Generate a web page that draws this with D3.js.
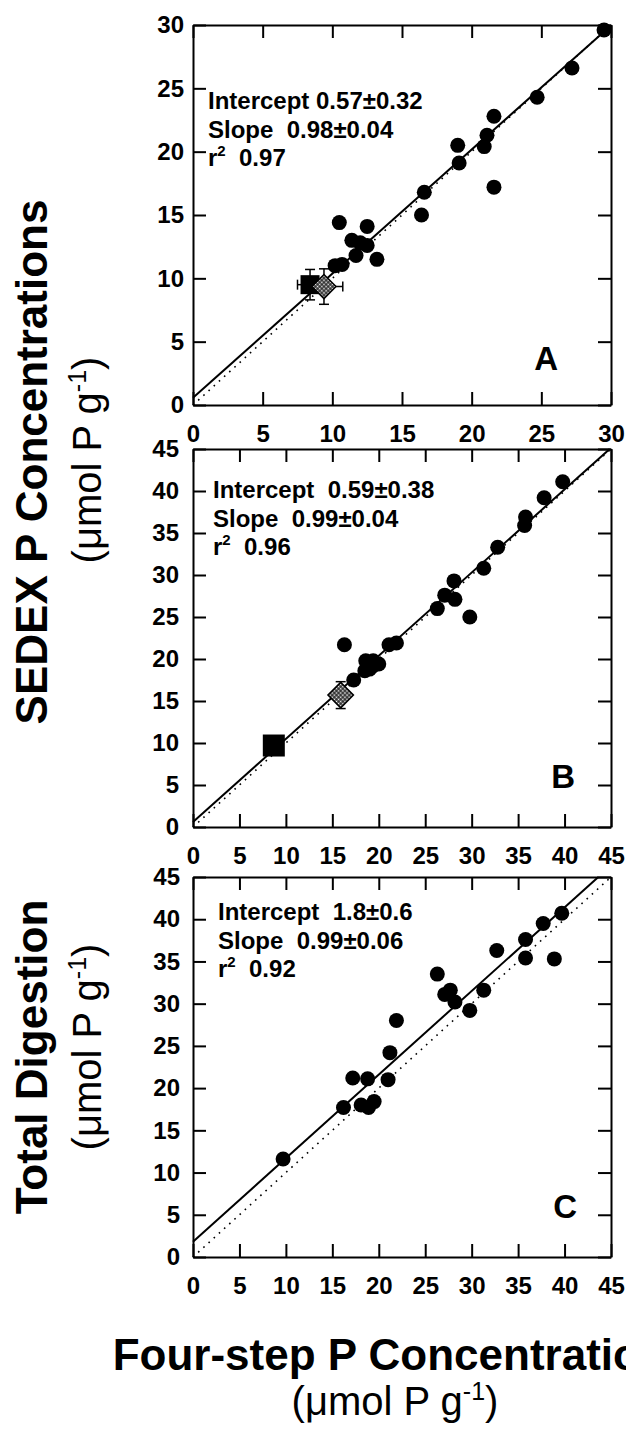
<!DOCTYPE html>
<html><head><meta charset="utf-8">
<script src="https://cdn.jsdelivr.net/npm/d3@7"></script>
<style>
body{margin:0;background:#fff;}
svg text{font-family:"Liberation Sans",Arial,Helvetica,sans-serif;fill:#000;}
</style></head><body>
<svg id="chart" width="626" height="1431"></svg>
<script>
// ---------------- data ----------------
const ticksA  = [0,5,10,15,20,25,30];
const ticksBC = [0,5,10,15,20,25,30,35,40,45];

// Panel A: SEDEX vs four-step
const aX = [29.5,27.2,24.7,21.6,21.1,20.9,19.0,19.1,21.6,16.6,16.4,10.5,12.5,11.4,12.0,12.5,11.7,13.2,10.2,10.7];
const aY = [29.6,26.6,24.3,22.8,21.3,20.4,20.5,19.1,17.2,16.8,15.0,14.4,14.1,13.0,12.8,12.6,11.8,11.5,11.0,11.1];
const squareA  = [8.4, 9.5];   const squareAErr  = [0.9, 1.2];
const diamondA = [9.4, 9.35];  const diamondAErr = [1.35, 1.4];
const fitA = [0.57, 0.98];
const annA = ["Intercept 0.57\u00b10.32", "Slope  0.98\u00b10.04", "0.97"];

// Panel B: SEDEX vs four-step
const bX = [39.8,37.8,35.8,35.7,32.8,31.3,28.1,27.1,28.2,26.3,29.8,16.3,21.1,21.9,18.6,19.4,19.3,18.5,17.3,20.0,19.0];
const bY = [41.1,39.2,36.9,35.9,33.3,30.8,29.3,27.6,27.1,26.0,25.0,21.7,21.7,21.9,19.8,19.8,19.1,18.6,17.5,19.4,18.8];
const squareB  = [8.7, 9.7];   const squareBErr  = [0, 0];
const diamondB = [15.9, 15.7]; const diamondBErr = [0, 1.6];
const fitB = [0.59, 0.99];
const annB = ["Intercept  0.59\u00b10.38", "Slope  0.99\u00b10.04", "0.96"];

// Panel C: Total digestion vs four-step
const cX = [9.7,16.2,17.2,18.8,18.1,18.9,19.5,21.0,21.2,21.9,26.3,27.1,27.7,28.2,29.8,31.3,32.7,35.8,35.8,37.7,38.9,39.7];
const cY = [11.6,17.7,21.2,21.1,18.0,17.7,18.4,21.0,24.2,28.0,33.5,31.1,31.6,30.2,29.2,31.6,36.3,37.6,35.4,39.5,35.3,40.7];
const fitC = [1.8, 0.99];
const annC = ["Intercept  1.8\u00b10.6", "Slope  0.99\u00b10.06", "0.92"];

const panelLetters = ["A","B","C"];
const titleSEDEX = "SEDEX P Concentrations";
const titleTotal = "Total Digestion";
const titleX = "Four-step P Concentrations";
const unitText = "(\u03bcmol P g";

// ---------------- drawing ----------------
const svg = d3.select("#chart");
svg.append("rect").attr("width",626).attr("height",1431).attr("fill","#fff");

const defs = svg.append("defs");
const pat = defs.append("pattern").attr("id","check").attr("patternUnits","userSpaceOnUse")
  .attr("width",3).attr("height",3);
pat.append("rect").attr("width",3).attr("height",3).attr("fill","#111");
pat.append("rect").attr("x",0.6).attr("y",0.6).attr("width",1.8).attr("height",1.8).attr("fill","#fff");

const L = 193, R = 611;
const panels = [
  {top:25,  bottom:405,  max:30, ticks:ticksA,  xs:aX, ys:aY, fit:fitA, ann:annA, annX:208, annY:109, letter:panelLetters[0], lx:558, ly:370, pad:9,
   square:squareA, squareErr:squareAErr, squareSize:19, diamond:diamondA, diamondErr:diamondAErr, diamondSide:17},
  {top:449, bottom:827,  max:45, ticks:ticksBC, xs:bX, ys:bY, fit:fitB, ann:annB, annX:213, annY:498, letter:panelLetters[1], lx:575, ly:788, pad:14,
   square:squareB, squareErr:squareBErr, squareSize:22, diamond:diamondB, diamondErr:diamondBErr, diamondSide:18},
  {top:877, bottom:1257, max:45, ticks:ticksBC, xs:cX, ys:cY, fit:fitC, ann:annC, annX:218, annY:920, letter:panelLetters[2], lx:577, ly:1218, pad:13}
];

function styleAxis(g){
  g.attr("font-family",'"Liberation Sans",Arial,sans-serif').attr("font-size",24).attr("font-weight","bold");
  g.select(".domain").attr("stroke","#000").attr("stroke-width",2);
  g.selectAll(".tick line").attr("stroke","#000").attr("stroke-width",2);
  g.selectAll(".tick text").attr("fill","#000");
}

panels.forEach(p => {
  const x = d3.scaleLinear().domain([0,p.max]).range([L,R]);
  const y = d3.scaleLinear().domain([0,p.max]).range([p.bottom,p.top]);
  const g = svg.append("g");
  const fmt = d3.format("d");

  // 1:1 dotted line
  g.append("line").attr("x1",x(0)).attr("y1",y(0)).attr("x2",x(p.max)).attr("y2",y(p.max))
    .attr("stroke","#000").attr("stroke-width",1.6).attr("stroke-dasharray","1.6,5.4");
  // regression line
  const [b,m] = p.fit;
  const xEnd = Math.min(p.max,(p.max-b)/m);
  g.append("line").attr("x1",x(0)).attr("y1",y(b)).attr("x2",x(xEnd)).attr("y2",y(b+m*xEnd))
    .attr("stroke","#000").attr("stroke-width",2);

  // axes (inward ticks on all sides)
  g.append("g").attr("transform",`translate(0,${p.bottom})`)
    .call(d3.axisBottom(x).tickValues(p.ticks).tickSize(-13).tickSizeOuter(0).tickPadding(20).tickFormat(fmt)).call(styleAxis);
  g.append("g").attr("transform",`translate(0,${p.top})`)
    .call(d3.axisTop(x).tickValues(p.ticks).tickSize(-13).tickSizeOuter(0).tickFormat(()=>"")).call(styleAxis);
  g.append("g").attr("transform",`translate(${L},0)`)
    .call(d3.axisLeft(y).tickValues(p.ticks).tickSize(-13).tickSizeOuter(0).tickPadding(p.pad).tickFormat(fmt)).call(styleAxis);
  g.append("g").attr("transform",`translate(${R},0)`)
    .call(d3.axisRight(y).tickValues(p.ticks).tickSize(-13).tickSizeOuter(0).tickFormat(()=>"")).call(styleAxis);

  // circles
  g.selectAll("circle.pt").data(p.xs.map((v,i)=>[v,p.ys[i]])).join("circle")
    .attr("class","pt").attr("cx",d=>x(d[0])).attr("cy",d=>y(d[1])).attr("r",7.5).attr("fill","#000");

  function errBars(c, e, cap){
    if(e[1]>0){
      g.append("line").attr("x1",x(c[0])).attr("x2",x(c[0])).attr("y1",y(c[1]-e[1])).attr("y2",y(c[1]+e[1])).attr("stroke","#000").attr("stroke-width",1.5);
      [c[1]-e[1],c[1]+e[1]].forEach(v=>g.append("line").attr("x1",x(c[0])-cap).attr("x2",x(c[0])+cap).attr("y1",y(v)).attr("y2",y(v)).attr("stroke","#000").attr("stroke-width",1.5));
    }
    if(e[0]>0){
      g.append("line").attr("y1",y(c[1])).attr("y2",y(c[1])).attr("x1",x(c[0]-e[0])).attr("x2",x(c[0]+e[0])).attr("stroke","#000").attr("stroke-width",1.5);
      [c[0]-e[0],c[0]+e[0]].forEach(v=>g.append("line").attr("y1",y(c[1])-cap).attr("y2",y(c[1])+cap).attr("x1",x(v)).attr("x2",x(v)).attr("stroke","#000").attr("stroke-width",1.5));
    }
  }

  if(p.square){
    errBars(p.square, p.squareErr, 5);
    const s = p.squareSize;
    g.append("rect").attr("x",x(p.square[0])-s/2).attr("y",y(p.square[1])-s/2).attr("width",s).attr("height",s).attr("fill","#000");
  }
  if(p.diamond){
    errBars(p.diamond, p.diamondErr, 5);
    const s = p.diamondSide;
    g.append("rect").attr("x",-s/2).attr("y",-s/2).attr("width",s).attr("height",s)
      .attr("transform",`translate(${x(p.diamond[0])},${y(p.diamond[1])}) rotate(45)`)
      .attr("fill","url(#check)").attr("stroke","#000").attr("stroke-width",1.5);
  }

  // annotation
  const ann = g.append("g").attr("font-size",24).attr("font-weight","bold");
  [0,1].forEach(i=>ann.append("text").attr("x",p.annX).attr("y",p.annY+i*28.7).style("white-space","pre").text(p.ann[i]));
  const t3 = ann.append("text").attr("x",p.annX).attr("y",p.annY+2*28.7).style("white-space","pre");
  t3.append("tspan").text("r");
  t3.append("tspan").attr("font-size",15).attr("dy",-10).text("2");
  t3.append("tspan").attr("dy",10).text("  "+p.ann[2]);

  // panel letter
  g.append("text").attr("x",p.lx).attr("y",p.ly).attr("text-anchor","end")
    .attr("font-size",33).attr("font-weight","bold").text(p.letter);
});

// axis titles
function unitLabel(sel){
  sel.append("tspan").text(unitText);
  sel.append("tspan").attr("font-size",25).attr("dy",-15).text("-1");
  sel.append("tspan").attr("dy",15).text(")");
}
svg.append("text").attr("transform","translate(47,462) rotate(-90)").attr("text-anchor","middle")
  .attr("font-size",44).attr("font-weight","bold").text(titleSEDEX);
svg.append("text").attr("transform","translate(101,460) rotate(-90)").attr("text-anchor","middle")
  .attr("font-size",40).call(unitLabel);
svg.append("text").attr("transform","translate(47,1057) rotate(-90)").attr("text-anchor","middle")
  .attr("font-size",44).attr("font-weight","bold").text(titleTotal);
svg.append("text").attr("transform","translate(101,1047) rotate(-90)").attr("text-anchor","middle")
  .attr("font-size",40).call(unitLabel);
svg.append("text").attr("x",402).attr("y",1370).attr("text-anchor","middle")
  .attr("font-size",44).attr("font-weight","bold").text(titleX);
svg.append("text").attr("x",395).attr("y",1415).attr("text-anchor","middle")
  .attr("font-size",40).call(unitLabel);
</script>
</body></html>
